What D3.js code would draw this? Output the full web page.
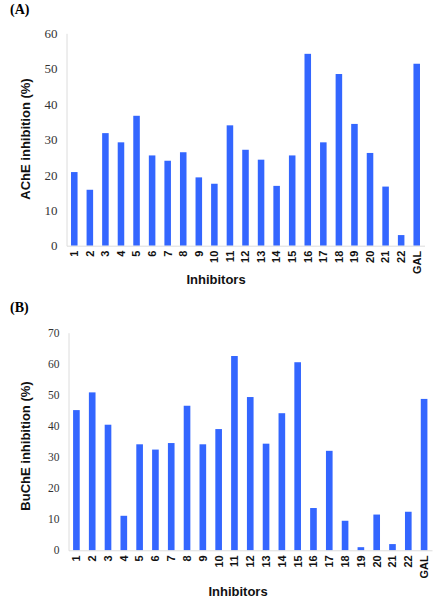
<!DOCTYPE html>
<html>
<head>
<meta charset="utf-8">
<script src="https://cdn.jsdelivr.net/npm/d3@7"></script>
<style>
  html, body { margin: 0; padding: 0; background: #fff; }
  svg { display: block; }
</style>
</head>
<body>
<svg id="chart" width="444" height="599"></svg>
<script>
// ---- data ----
const categories = ["1","2","3","4","5","6","7","8","9","10","11","12","13","14","15","16","17","18","19","20","21","22","GAL"];
const acheValues = [20.8, 15.8, 31.8, 29.2, 36.7, 25.5, 24.0, 26.4, 19.3, 17.5, 34.0, 27.1, 24.3, 16.9, 25.5, 54.2, 29.2, 48.5, 34.4, 26.2, 16.7, 3.0, 51.4];
const bucheValues = [45.1, 50.8, 40.4, 11.1, 34.1, 32.4, 34.5, 46.5, 34.1, 39.0, 62.5, 49.3, 34.3, 44.1, 60.5, 13.6, 32.0, 9.5, 1.0, 11.5, 2.0, 12.4, 48.7];
const acheTicks = [0, 10, 20, 30, 40, 50, 60];
const bucheTicks = [0, 10, 20, 30, 40, 50, 60, 70];

const svg = d3.select("#chart");
const barColor = "#3366ff";
const sans = "'Liberation Sans', Arial, sans-serif";
const serif = "'Liberation Serif', 'Times New Roman', serif";

function panel(cfg) {
  const g = svg.append("g");
  const x = d3.scaleBand().domain(categories).range([cfg.x0, cfg.x1])
    .paddingInner(0.58).paddingOuter(0.29);
  const y = d3.scaleLinear().domain([0, cfg.ymax]).range([cfg.yb, cfg.yt]);

  // panel letter
  g.append("text").attr("x", 10).attr("y", cfg.letterY)
    .attr("font-family", serif).attr("font-weight", "bold").attr("font-size", 14)
    .attr("fill", "#000").text(cfg.letter);

  // y axis
  const ya = g.append("g").attr("transform", `translate(${cfg.x0},0)`)
    .call(d3.axisLeft(y).tickValues(cfg.ticks).tickSize(0).tickPadding(9).tickFormat(d3.format("d")));
  ya.select(".domain").attr("stroke", "#dcdcdc");
  ya.selectAll("text").attr("font-family", serif).attr("font-size", cfg.tickFont).attr("fill", "#333");

  // bars
  g.selectAll("rect.bar").data(cfg.values).enter().append("rect")
    .attr("class", "bar")
    .attr("x", (d, i) => x(categories[i]))
    .attr("width", x.bandwidth())
    .attr("y", d => y(d))
    .attr("height", d => y(0) - y(d))
    .attr("fill", barColor);

  // x axis
  const xa = g.append("g").attr("transform", `translate(0,${cfg.yb})`)
    .call(d3.axisBottom(x).tickSize(0).tickSizeOuter(0));
  xa.select(".domain").attr("stroke", "#dcdcdc");
  xa.selectAll("text")
    .attr("font-family", sans).attr("font-weight", "bold").attr("font-size", 11).attr("fill", "#111")
    .attr("transform", "rotate(-90)")
    .attr("text-anchor", "end")
    .attr("x", -5).attr("y", 0).attr("dy", "0.35em");

  // axis titles
  g.append("text").attr("x", cfg.xTitleX).attr("y", cfg.yb + cfg.xTitleOff)
    .attr("text-anchor", "middle").attr("font-family", sans).attr("font-weight", "bold")
    .attr("font-size", 13).attr("fill", "#111").text("Inhibitors");
  g.append("text").attr("transform", `translate(30,${cfg.yTitleY}) rotate(-90)`)
    .attr("text-anchor", "middle").attr("font-family", sans).attr("font-weight", "bold")
    .attr("font-size", 13).attr("fill", "#111").text(cfg.yTitle);
}

panel({
  letter: "(A)", letterY: 14, values: acheValues, ticks: acheTicks, ymax: 60,
  x0: 66.5, x1: 424.5, yt: 33.3, yb: 245.7, tickFont: 13,
  xTitleX: 216, xTitleOff: 38, yTitle: "AChE inhibition (%)", yTitleY: 139
});
panel({
  letter: "(B)", letterY: 312, values: bucheValues, ticks: bucheTicks, ymax: 70,
  x0: 68.5, x1: 432, yt: 332.7, yb: 550.3, tickFont: 11.5,
  xTitleX: 238, xTitleOff: 45.5, yTitle: "BuChE inhibition (%)", yTitleY: 446
});
</script>
</body>
</html>
